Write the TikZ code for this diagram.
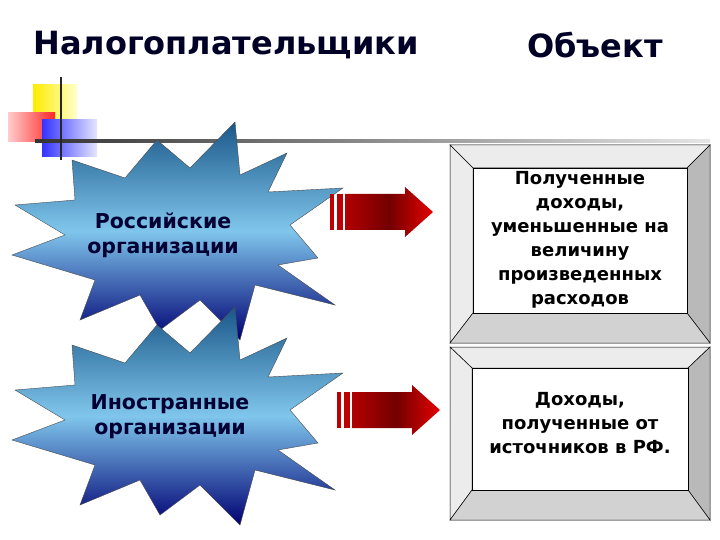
\documentclass[tikz,border=0pt]{standalone}
\usepackage{fontspec}
\setmainfont{DejaVu Sans}
\begin{document}
\begin{tikzpicture}[x=1pt,y=-1pt,
  ttl/.style={font=\fontsize{32}{36}\bfseries\selectfont, text=black!85!blue},
  lbl/.style={font=\fontsize{20.5}{25}\bfseries\selectfont, text=black!80!blue, align=center},
  btxt/.style={font=\fontsize{18}{24}\bfseries\selectfont, align=center},
  starfill/.style={draw=black!70, top color=blue!35!black!70!cyan!80!gray, bottom color=blue!45!black, middle color=blue!35!cyan!50!white!85!gray},
  bev1/.style={fill=gray!15, draw=black, line width=0.5pt},
  bev2/.style={fill=gray!55, draw=black, line width=0.5pt}]
\useasboundingbox (0,0) rectangle (720,540);
% decoration
\shade[left color=yellow!85!orange, right color=yellow!20] (33,85) rectangle (77,120);
\shade[left color=red!20, right color=red!85] (8,113) rectangle (55,142);
\shade[left color=blue!80, right color=blue!10] (42,120) rectangle (97,157);
\shade[left color=black!80, right color=black!10] (35,140) rectangle (710,142.5);
\draw[line width=2.5pt, black!85] (61,77) -- (61,160);
% titles
\node[ttl] (t1) at (226,45) {Налогоплательщики};
\node[ttl] (t2) at (595,45) {Объект};
% stars
\foreach \dy/\nm in {0/s1,185/s2}{
\begin{scope}[yshift=-\dy]
\path[starfill] (72,160)--(125,178)--(157,140)--(190,168)--(235,122)--(240,175)--(287,153)--(268,192)--(343,188)--(290,225)--(318,258)--(278,265)--(335,305)--(255,285)--(240,340)--(200,300)--(160,330)--(140,295)--(80,320)--(95,280)--(12,255)--(65,235)--(15,205)--(75,200)--cycle;
\end{scope}}
\node[lbl] (r1) at (163,235) {Российские\\организации};
\node[lbl] (r2) at (170,417) {Иностранные\\организации};
% arrows
\foreach \y/\x in {212/330,410/337}{
 \fill[red!75!black] (\x,\y-18) rectangle (\x+4,\y+18);
 \fill[red!75!black] (\x+7,\y-18) rectangle (\x+13,\y+18);
 \shade[left color=red!70!black, right color=red!90!black, middle color=red!45!black]
   (\x+15,\y-18) -- (\x+75,\y-18) -- (\x+75,\y-25) -- (\x+103,\y) -- (\x+75,\y+25) -- (\x+75,\y+18) -- (\x+15,\y+18) -- cycle;
}
% boxes
\foreach \ox/\oy/\ow/\oh/\ix/\iy/\iw/\ih in {450/145/710/343/473/168/687/313, 450/347/710/520/472/368/688/490}{
 \draw[bev1] (\ox,\oy) -- (\ow,\oy) -- (\iw,\iy) -- (\ix,\iy) -- cycle;
 \draw[bev1] (\ox,\oy) -- (\ix,\iy) -- (\ix,\ih) -- (\ox,\oh) -- cycle;
 \draw[bev2] (\ow,\oy) -- (\ow,\oh) -- (\iw,\ih) -- (\iw,\iy) -- cycle;
 \draw[bev2,fill=gray!35] (\ox,\oh) -- (\ow,\oh) -- (\iw,\ih) -- (\ix,\ih) -- cycle;
 \draw[fill=white] (\ix,\iy) rectangle (\iw,\ih);
}
\node[btxt] (b1) at (580,240) {Полученные\\доходы,\\уменьшенные на\\величину\\произведенных\\расходов};
\node[btxt] (b2) at (580,423) {Доходы,\\полученные от\\источников в РФ.};
\end{tikzpicture}
\end{document}
